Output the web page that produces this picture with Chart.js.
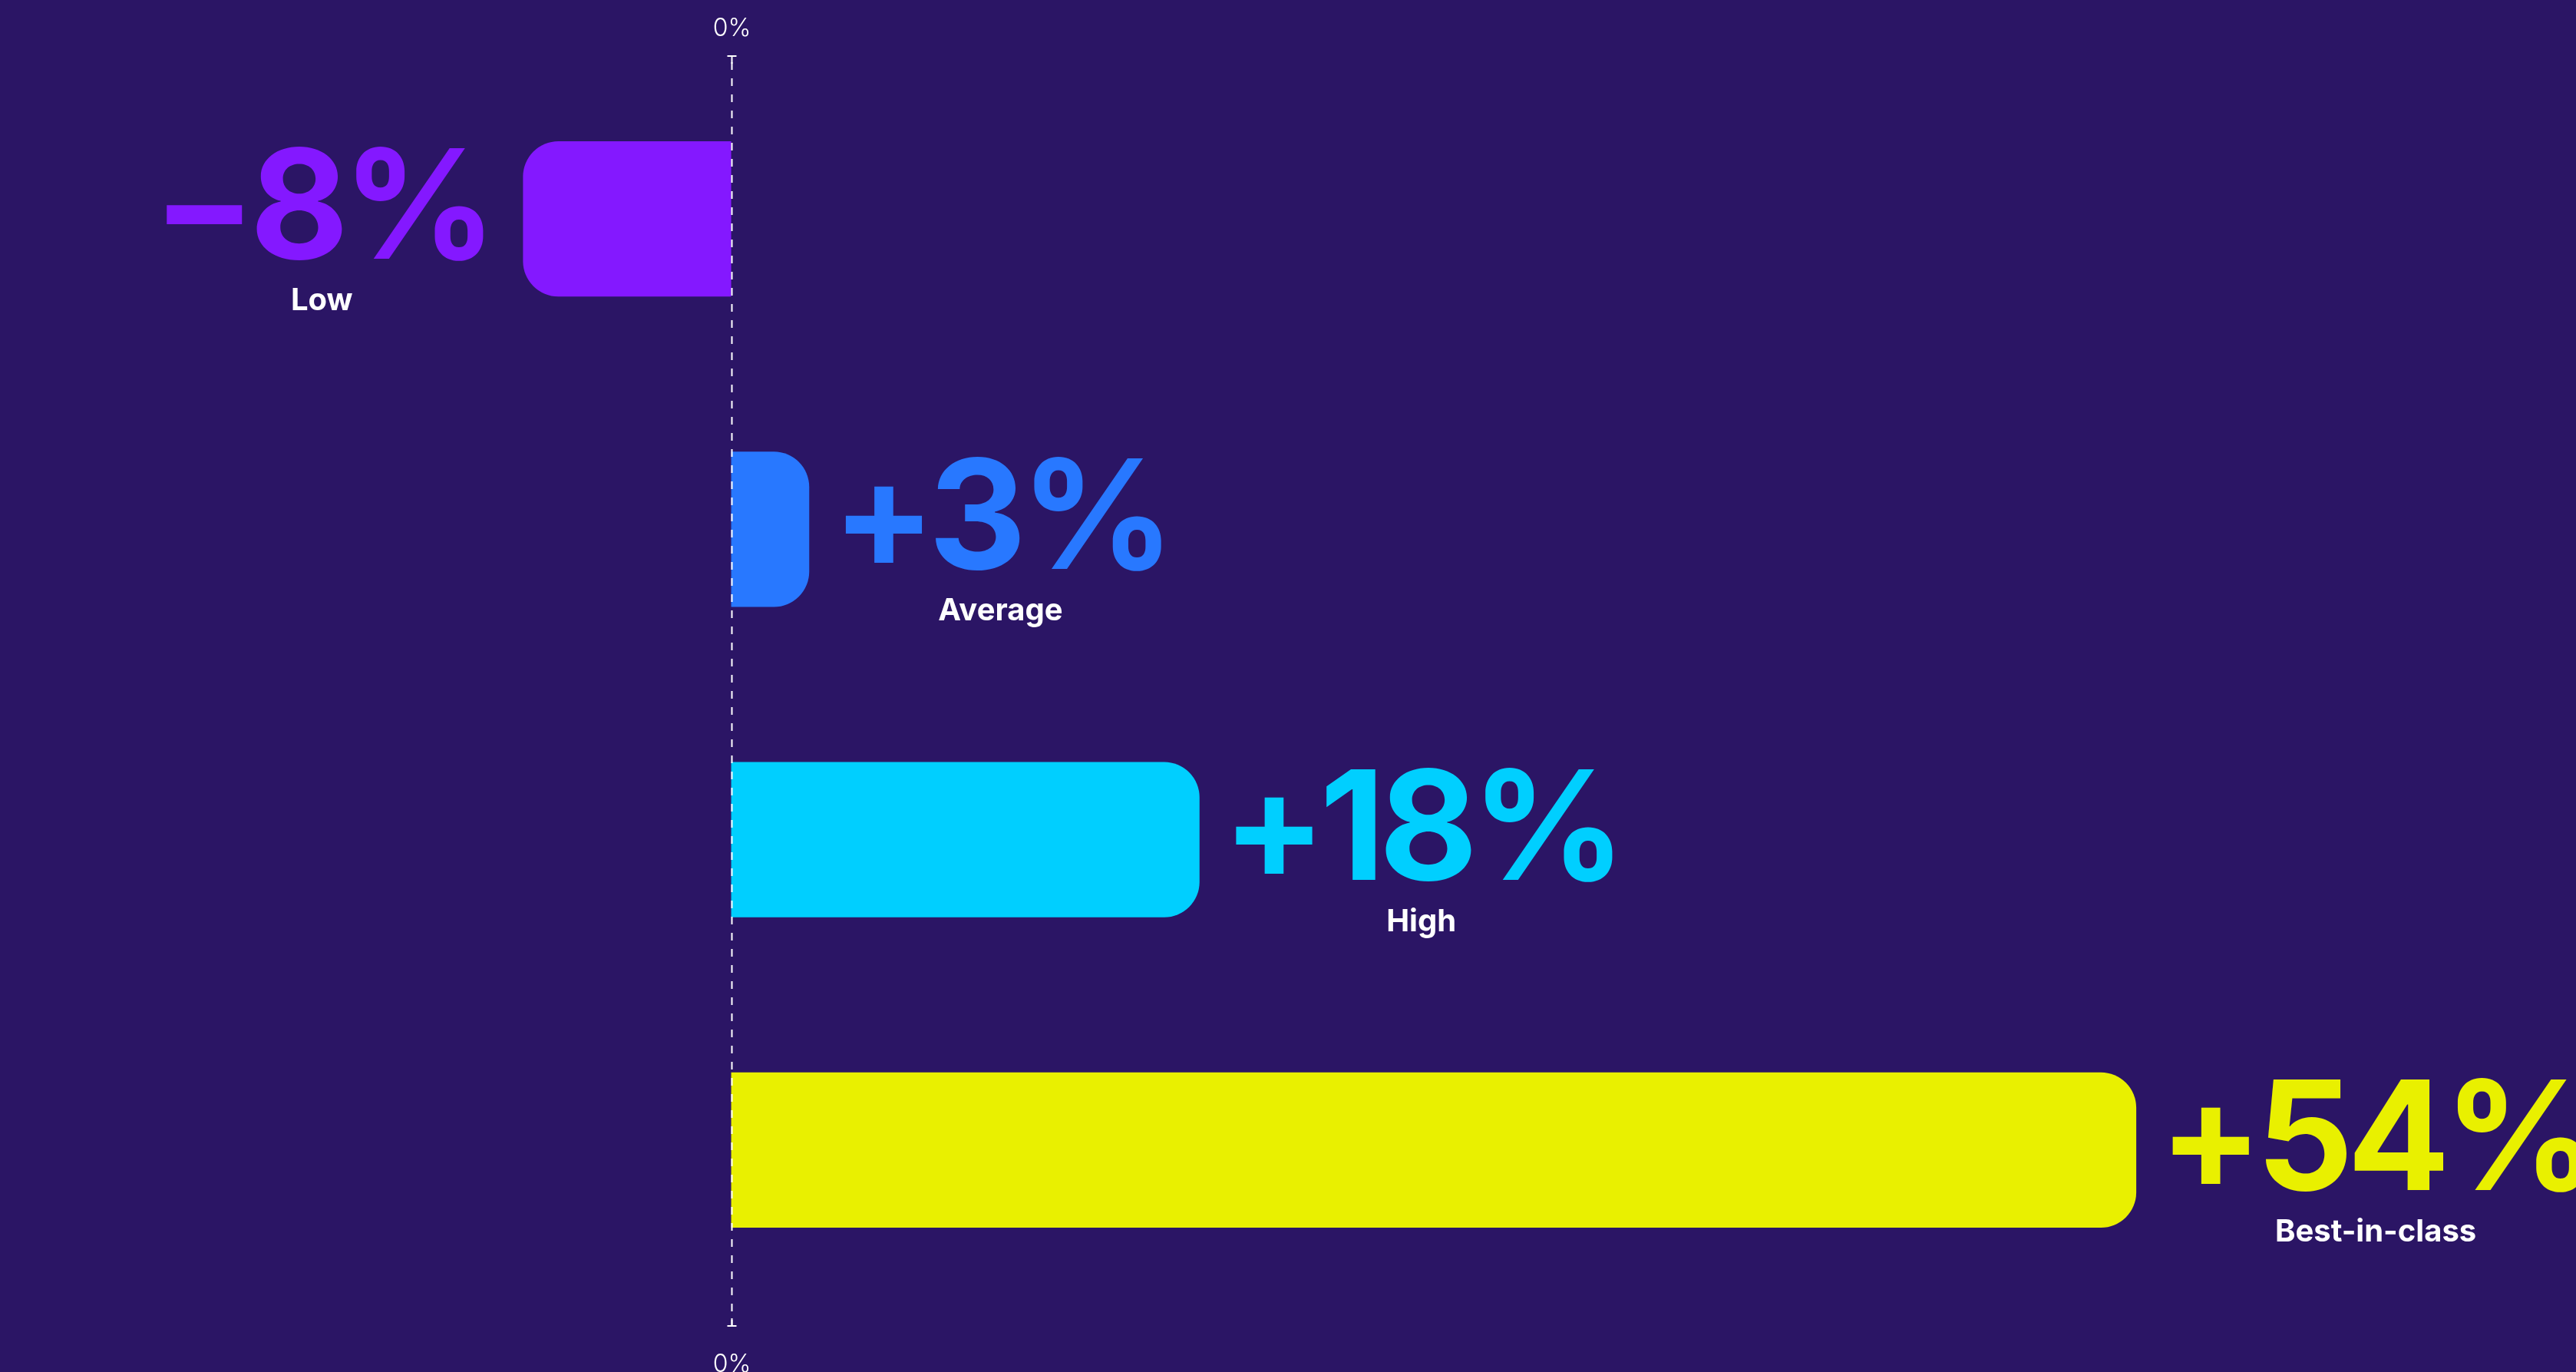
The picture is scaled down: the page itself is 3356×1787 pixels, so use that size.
<!DOCTYPE html>
<html>
<head>
<meta charset="utf-8">
<title>Change by performance tier</title>
<script src="https://cdn.jsdelivr.net/npm/chart.js@4/dist/chart.umd.min.js"></script>
<style>
  html, body { margin: 0; padding: 0; background: #2B1565; overflow: hidden; }
  #wrap { width: 3356px; height: 1787px; }
</style>
</head>
<body>
<div id="wrap"><canvas id="tiers" width="3356" height="1787"></canvas></div>
<script>
const categories = ["Low", "Average", "High", "Best-in-class"];
const changes = [-8, 3, 18, 54];
const barColors = ["#8418FF", "#2878FF", "#00CFFF", "#E9F000"];
const zeroLabel = "0%";

function formatChange(v) {
  return (v < 0 ? "\u2212" : "+") + Math.abs(v) + "%";
}

// dashed baseline at 0 with small end caps and a label above and below
const zeroLine = {
  id: "zeroLine",
  afterDatasetsDraw(chart) {
    const { ctx, chartArea, scales } = chart;
    const x = Math.round(scales.x.getPixelForValue(0)) + 0.5;
    const top = chartArea.top - 10;
    const bottom = chartArea.bottom + 27;
    ctx.save();
    ctx.strokeStyle = "#ffffff";
    ctx.lineWidth = 2;
    ctx.setLineDash([10, 11]);
    ctx.beginPath();
    ctx.moveTo(x, top + 8);
    ctx.lineTo(x, bottom);
    ctx.stroke();
    ctx.setLineDash([]);
    ctx.beginPath();
    ctx.moveTo(x, top);
    ctx.lineTo(x, top + 10);
    ctx.moveTo(x - 6, top);
    ctx.lineTo(x + 6, top);
    ctx.moveTo(x, bottom - 10);
    ctx.lineTo(x, bottom);
    ctx.moveTo(x - 6, bottom);
    ctx.lineTo(x + 6, bottom);
    ctx.stroke();

    ctx.fillStyle = "#ffffff";
    ctx.font = "300 32px Inter";
    ctx.textAlign = "center";
    ctx.textBaseline = "alphabetic";
    ctx.fillText(zeroLabel, x, 47);
    ctx.fillText(zeroLabel, x, bottom + 60);
    ctx.restore();
  }
};

// big coloured value with the tier name centred under it
const valueLabels = {
  id: "valueLabels",
  afterDatasetsDraw(chart) {
    const { ctx } = chart;
    const bars = chart.getDatasetMeta(0).data;
    ctx.save();
    bars.forEach((bar, i) => {
      const v = changes[i];
      const txt = formatChange(v);
      ctx.font = "700 198px Inter";
      ctx.letterSpacing = "-8px";
      const w = ctx.measureText(txt).width;
      const x0 = v < 0 ? bar.x - 42 - w : bar.x + 30;
      ctx.fillStyle = barColors[i];
      ctx.textAlign = "left";
      ctx.textBaseline = "alphabetic";
      ctx.fillText(txt, x0, bar.y + 52);

      ctx.font = "700 40px Inter";
      ctx.letterSpacing = "0px";
      ctx.fillStyle = "#ffffff";
      ctx.textAlign = "center";
      ctx.textBaseline = "middle";
      ctx.fillText(categories[i], x0 + w / 2, bar.y + 107);
    });
    ctx.restore();
  }
};

new Chart(document.getElementById("tiers"), {
  type: "bar",
  data: {
    labels: categories,
    datasets: [{
      data: changes,
      backgroundColor: barColors,
      borderWidth: 0,
      borderRadius: 46,
      borderSkipped: "start",
      barPercentage: 0.5,
      categoryPercentage: 1
    }]
  },
  options: {
    indexAxis: "y",
    responsive: false,
    devicePixelRatio: 1,
    animation: false,
    layout: { padding: { top: 83, bottom: 87, left: 0, right: 0 } },
    scales: {
      x: { display: false, min: -28.1, max: 70.9 },
      y: { display: false }
    },
    plugins: {
      legend: { display: false },
      tooltip: { enabled: false }
    }
  },
  plugins: [zeroLine, valueLabels]
});
</script>
</body>
</html>
